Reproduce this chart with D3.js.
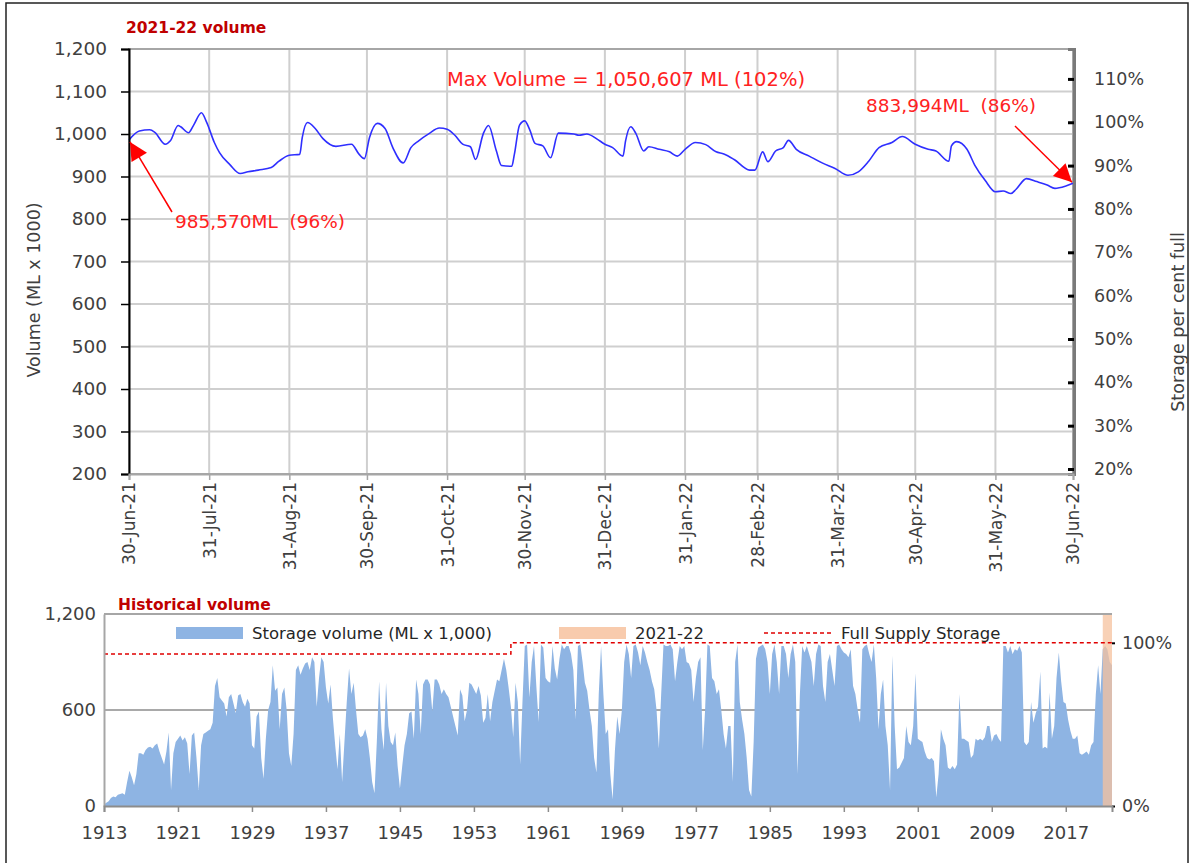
<!DOCTYPE html>
<html>
<head>
<meta charset="utf-8">
<script src="https://cdn.jsdelivr.net/npm/d3@7"></script>
<style>
body{margin:0;background:#fff;}
text{font-family:'DejaVu Sans',sans-serif;}
</style>
</head>
<body>
<div id="viz-container"></div>
<script>
// 2021-22 storage, days after 30-Jun-21 and volume (ML x 1000)
let dayOffsets = [0,4,8,10,14,16,19,20,23,25,28,30,33,35,39,43,46,50,55,58,
  62,66,67,69,72,75,80,86,89,91,93,96,99,102,106,109,112,116,120,123,
  126,129,132,134,137,139,142,144,148,149,151,153,155,157,160,163,166,172,174,177,
  181,184,187,191,192,194,196,199,201,205,209,212,215,219,223,227,230,234,240,242,
  245,247,250,253,255,258,263,268,273,278,282,286,290,295,299,304,309,312,317,318,
  320,324,327,331,335,338,341,343,347,351,355,358,362,365];
let volumes2122 = [986,1007,1010,1004,976,984,1020,1017,1003,1021,1050,1028,980,956,928,907,911,915,921,936,
  950,952,992,1027,1013,989,971,976,952,942,992,1025,1013,968,932,968,984,1001,1014,1011,
  997,976,970,940,1001,1020,961,926,924,952,1021,1031,1009,978,972,944,1002,1000,997,1000,
  988,976,968,948,984,1017,1001,960,970,964,958,948,964,980,975,958,953,940,915,915,
  958,935,960,968,985,964,948,932,919,903,911,936,968,980,994,976,964,960,936,972,
  982,964,927,891,864,866,860,870,895,888,880,872,877,884];

let monthEnds = ['2021-06-30','2021-07-31','2021-08-31','2021-09-30','2021-10-31','2021-11-30',
  '2021-12-31','2022-01-31','2022-02-28','2022-03-31','2022-04-30','2022-05-31','2022-06-30'];
let volumeTicks = [200,300,400,500,600,700,800,900,1000,1100,1200];
let percentTicks = [0.2,0.3,0.4,0.5,0.6,0.7,0.8,0.9,1.0,1.1];

// historical storage, quarterly from 1913 (ML x 1000)
let histStart = 1913;
let histVolume = [
  10,20,30,50, 60,55,70,75, 80,70,150,220, 180,130,200,330, 330,320,350,365,
  370,360,380,390, 340,300,260,340, 460,100,330,400, 420,440,410,430, 390,200,440,460,
  300,100,380,450, 460,470,480,520, 750,800,680,660, 640,560,680,700, 640,580,690,700,
  650,620,670,640, 380,360,560,590, 300,170,420,600, 650,880,720,740, 480,700,740,600,
  330,250,450,850, 880,820,860,890, 900,850,930,900, 620,800,930,900, 740,640,760,550,
  380,230,450,150, 400,650,860,700, 770,600,450,430, 440,480,420,300, 150,80,400,780,
  480,350,770,500, 400,380,460,250, 110,250,380,450, 580,590,420,790, 700,450,760,790,
  790,760,590,790, 790,760,700,730, 700,680,620,560, 500,440,730,690, 530,600,770,760,
  730,700,750,690, 520,550,700,530, 650,720,790,780, 850,920,850,740, 620,430,770,650,
  260,650,1000,1010, 680,900,1000,750, 525,1010,990,800, 780,770,1000,860, 790,920,1010,980,
  1000,1000,950,850, 540,1000,1010,900, 770,720,600,500, 300,210,700,1000, 700,450,480,200,
  40,350,560,450, 600,900,1010,950, 800,1000,1010,960, 880,1000,960,900, 850,780,730,600,
  360,700,1010,1000, 1000,1010,980,780, 900,1000,980,1000, 900,890,850,650, 800,900,930,350,
  600,1010,1000,800, 780,700,730,600, 450,360,500,500, 150,900,1010,650, 540,450,300,100,
  60,400,920,990, 1000,1010,980,900, 700,950,1010,900, 700,1000,1000,950, 800,950,1010,900,
  200,700,1000,960, 1000,950,900,750, 950,1010,1000,750, 650,900,950,850, 750,1000,1010,980,
  960,950,930,980, 750,700,600,520, 980,1000,1010,950, 900,1010,800,480, 700,790,500,380,
  100,940,500,230, 240,270,300,500, 400,380,500,830, 420,410,400,340, 300,290,300,280,
  55,200,480,420, 380,240,230,250, 230,260,700,420, 420,410,400,300, 320,420,410,420,
  410,430,500,500, 400,440,450,420, 400,1000,1000,960, 1000,950,980,970, 1000,960,400,380,
  400,650,520,580, 620,840,360,370, 360,710,420,500, 800,960,780,650, 640,540,470,420,
  420,440,330,320, 330,340,320,380, 400,700,880,700, 980,1000,980,900, 880];
let fssYears = [1913, 1957, 2022];
let fssVolume = [950, 1020, 1020];
let histYearTicks = [1913,1921,1929,1937,1945,1953,1961,1969,1977,1985,1993,2001,2009,2017];
let histVolumeTicks = [0,600,1200];
let histPercentTicks = [0,1];
let currentYear = [2021, 2022];

let parse = d3.timeParse('%Y-%m-%d');
let startDate = parse(monthEnds[0]);

let viz = d3.select('#viz-container')
  .append('svg')
    .attr('width',1191)
    .attr('height',863)
;

viz.append('rect')
  .attr('x',6).attr('y',3).attr('width',1182).attr('height',880)
  .attr('fill','none').attr('stroke','#222').attr('stroke-width',1.5);

let defs = viz.append('defs');
defs.append('marker')
  .attr('id','head')
  .attr('viewBox','0 0 10 10')
  .attr('refX',10).attr('refY',5)
  .attr('markerWidth',20).attr('markerHeight',18)
  .attr('markerUnits','userSpaceOnUse')
  .attr('orient','auto')
  .append('path').attr('d','M0,0L10,5L0,10z').attr('fill','#ff0000');

// ---------- top chart ----------
let x = d3.scaleTime().domain([startDate, parse(monthEnds[12])]).range([129,1073]);
let y = d3.scaleLinear().domain([200,1200]).range([474,49]);
let yPct = d3.scaleLinear().domain([0.1885,1.169]).range([474,49]);

let topChart = viz.append('g');

topChart.selectAll('.hgrid').data(volumeTicks).enter()
  .append('line')
    .attr('x1',129).attr('x2',1073)
    .attr('y1',d => y(d)).attr('y2',d => y(d))
    .attr('stroke','#cfcfcf').attr('stroke-width',2);

topChart.selectAll('.vgrid').data(monthEnds).enter()
  .append('line')
    .attr('x1',d => x(parse(d))).attr('x2',d => x(parse(d)))
    .attr('y1',49).attr('y2',474)
    .attr('stroke','#cfcfcf').attr('stroke-width',2);

topChart.append('rect')
  .attr('x',129).attr('y',49).attr('width',944).attr('height',425)
  .attr('fill','none').attr('stroke','#a6a6a6').attr('stroke-width',2);

let line = d3.line()
  .x((d,i) => x(d3.timeDay.offset(startDate, dayOffsets[i])))
  .y(d => y(d))
  .curve(d3.curveMonotoneX);

topChart.append('path')
  .datum(volumes2122)
  .attr('d',line)
  .attr('fill','none')
  .attr('stroke','#2f2fff')
  .attr('stroke-width',1.6);

let leftAxis = topChart.append('g')
  .attr('transform','translate(129,0)')
  .call(d3.axisLeft(y).tickValues(volumeTicks).tickFormat(d3.format(',')).tickSize(8).tickPadding(14));
leftAxis.select('.domain').attr('stroke','#000').attr('stroke-width',2);
leftAxis.selectAll('line').attr('stroke','#000').attr('stroke-width',1.5);
leftAxis.selectAll('text').attr('font-size',18.5).attr('fill','#404040').attr('font-family','DejaVu Sans');

let rightAxis = topChart.append('g')
  .attr('transform','translate(1074,0)')
  .call(d3.axisRight(yPct).tickValues(percentTicks).tickFormat(d3.format('.0%')).tickSize(-6).tickPadding(20));
rightAxis.select('.domain').attr('stroke','#7a7a7a').attr('stroke-width',3);
rightAxis.selectAll('.tick line').attr('stroke','#000').attr('stroke-width',3);
rightAxis.selectAll('text').attr('font-size',17.5).attr('fill','#404040').attr('font-family','DejaVu Sans');

let bottomAxis = topChart.append('g')
  .attr('transform','translate(0,474)')
  .call(d3.axisBottom(x).tickValues(monthEnds.map(parse)).tickFormat(d3.timeFormat('%d-%b-%y')).tickSize(6));
bottomAxis.select('.domain').attr('stroke','#a6a6a6').attr('stroke-width',2);
bottomAxis.selectAll('line').attr('stroke','#a6a6a6').attr('stroke-width',1.5);
bottomAxis.selectAll('text')
  .attr('transform','rotate(-90)')
  .attr('x',-8).attr('y',0).attr('dy','0.35em')
  .style('text-anchor','end')
  .attr('font-size',17).attr('fill','#404040').attr('font-family','DejaVu Sans');

topChart.append('text')
  .attr('transform','translate(40,290) rotate(-90)')
  .attr('text-anchor','middle')
  .attr('font-size',17.5).attr('fill','#404040')
  .text('Volume (ML x 1000)');

topChart.append('text')
  .attr('transform','translate(1184,322) rotate(-90)')
  .attr('text-anchor','middle')
  .attr('font-size',17.5).attr('fill','#404040')
  .text('Storage per cent full');

topChart.append('text')
  .attr('x',126).attr('y',33)
  .attr('font-size',15.5).attr('font-weight','bold').attr('fill','#c00000')
  .text('2021-22 volume');

topChart.append('text')
  .attr('x',447).attr('y',86)
  .attr('font-size',19.5).attr('fill','#ff2222')
  .text('Max Volume = 1,050,607 ML (102%)');

topChart.append('text')
  .attr('x',866).attr('y',112)
  .style('white-space','pre')
  .attr('font-size',18.5).attr('fill','#ff2222')
  .text('883,994ML  (86%)');

topChart.append('text')
  .attr('x',175).attr('y',228)
  .style('white-space','pre')
  .attr('font-size',18.5).attr('fill','#ff2222')
  .text('985,570ML  (96%)');

let firstPt = [x(startDate), y(volumes2122[0])];
let lastIdx = volumes2122.length - 1;
let lastPt = [x(d3.timeDay.offset(startDate, dayOffsets[lastIdx])), y(volumes2122[lastIdx])];

topChart.append('line')
  .attr('x1',172).attr('y1',212)
  .attr('x2',firstPt[0]+1).attr('y2',firstPt[1]+2)
  .attr('stroke','#ff0000').attr('stroke-width',1.5)
  .attr('marker-end','url(#head)');

topChart.append('line')
  .attr('x1',1015).attr('y1',126)
  .attr('x2',lastPt[0]-1).attr('y2',lastPt[1]-1)
  .attr('stroke','#ff0000').attr('stroke-width',1.5)
  .attr('marker-end','url(#head)');

// ---------- historical chart ----------
let xh = d3.scaleLinear().domain([1913,2022]).range([104,1112]);
let yh = d3.scaleLinear().domain([0,1200]).range([806,614]);
let yhPct = d3.scaleLinear().domain([0,1200/1020]).range([806,614]);

let hist = viz.append('g');

hist.append('line')
  .attr('x1',104).attr('x2',1112)
  .attr('y1',yh(600)).attr('y2',yh(600))
  .attr('stroke','#8c8c8c').attr('stroke-width',1.5);

let area = d3.area()
  .x((d,i) => xh(histStart + i*0.25))
  .y0(yh(0))
  .y1(d => yh(d));

hist.append('path')
  .datum(histVolume)
  .attr('d',area)
  .attr('fill','#8eb4e3');

hist.append('rect')
  .attr('x',xh(currentYear[0])).attr('y',614)
  .attr('width',xh(currentYear[1]) - xh(currentYear[0])).attr('height',192)
  .attr('fill','#f6c29e').attr('opacity',0.75);

let fssLine = d3.line()
  .x(d => xh(d[0]))
  .y(d => yh(d[1]))
  .curve(d3.curveStepAfter);

hist.append('path')
  .datum(fssYears.map((d,i) => [d, fssVolume[i]]))
  .attr('d',fssLine)
  .attr('fill','none')
  .attr('stroke','#e00000')
  .attr('stroke-width',1.5)
  .attr('stroke-dasharray','4,3');

hist.append('line')
  .attr('x1',104).attr('x2',1112).attr('y1',614).attr('y2',614)
  .attr('stroke','#a6a6a6').attr('stroke-width',2);

let hLeft = hist.append('g')
  .attr('transform','translate(104,0)')
  .call(d3.axisLeft(yh).tickValues(histVolumeTicks).tickFormat(d3.format(',')).tickSize(0).tickPadding(8));
hLeft.select('.domain').attr('stroke','#a6a6a6').attr('stroke-width',2);
hLeft.selectAll('text').attr('font-size',18).attr('fill','#404040').attr('font-family','DejaVu Sans');

let hRight = hist.append('g')
  .attr('transform','translate(1112,0)')
  .call(d3.axisRight(yhPct).tickValues(histPercentTicks).tickFormat(d3.format('.0%')).tickSize(3).tickPadding(7));
hRight.select('.domain').remove();
hRight.selectAll('.tick line').attr('stroke','#000').attr('stroke-width',2);
hRight.selectAll('text').attr('font-size',17.5).attr('fill','#404040').attr('font-family','DejaVu Sans');

let hBottom = hist.append('g')
  .attr('transform','translate(0,806)')
  .call(d3.axisBottom(xh).tickValues(histYearTicks).tickFormat(d3.format('d')).tickSize(6).tickPadding(14));
hBottom.select('.domain').attr('stroke','#8c8c8c').attr('stroke-width',2);
hBottom.selectAll('line').attr('stroke','#8c8c8c').attr('stroke-width',1.5);
hBottom.selectAll('text').attr('font-size',18).attr('fill','#404040').attr('font-family','DejaVu Sans');

hist.append('text')
  .attr('x',118).attr('y',610)
  .attr('font-size',15.5).attr('font-weight','bold').attr('fill','#c00000')
  .text('Historical volume');

// legend
hist.append('rect').attr('x',176).attr('y',627).attr('width',67).attr('height',12).attr('fill','#8eb4e3');
hist.append('text').attr('x',252).attr('y',633).attr('dy','0.35em')
  .attr('font-size',16.5).attr('fill','#262626').text('Storage volume (ML x 1,000)');
hist.append('rect').attr('x',559).attr('y',627).attr('width',67).attr('height',12).attr('fill','#f8cbad');
hist.append('text').attr('x',635).attr('y',633).attr('dy','0.35em')
  .attr('font-size',16.5).attr('fill','#262626').text('2021-22');
hist.append('line').attr('x1',764).attr('x2',834).attr('y1',633).attr('y2',633)
  .attr('stroke','#e00000').attr('stroke-width',1.5).attr('stroke-dasharray','4,3');
hist.append('text').attr('x',841).attr('y',633).attr('dy','0.35em')
  .attr('font-size',16.5).attr('fill','#262626').text('Full Supply Storage');
</script>
</body>
</html>
